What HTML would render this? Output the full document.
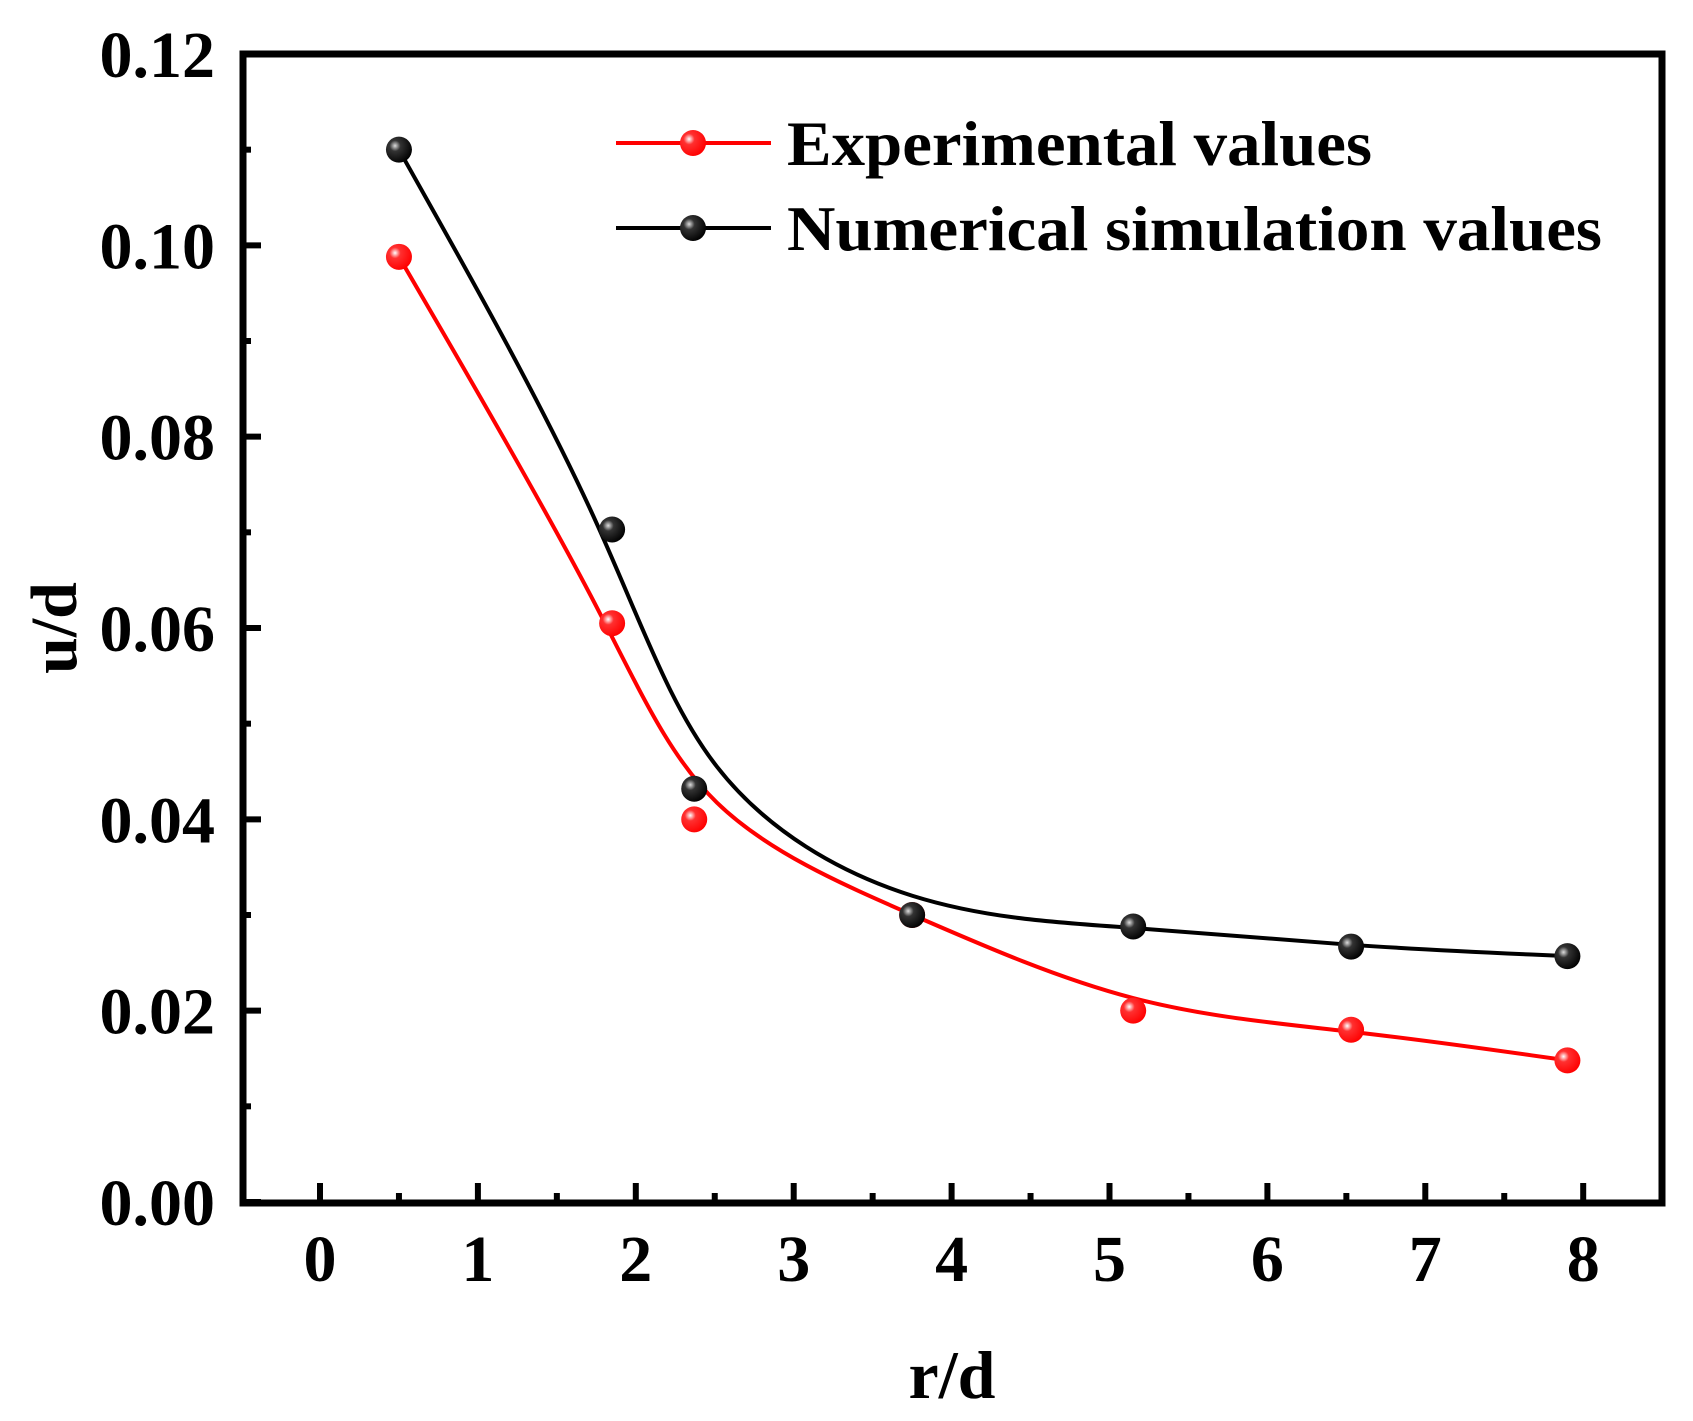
<!DOCTYPE html>
<html><head><meta charset="utf-8"><style>
html,body{margin:0;padding:0;background:#fff;}
svg{display:block;}
text{font-family:"Liberation Serif",serif;font-weight:bold;fill:#000;}
</style></head><body>
<svg id="chart" width="1693" height="1421" viewBox="0 0 1693 1421" xmlns="http://www.w3.org/2000/svg">
<defs>
<radialGradient id="gr" cx="0.35" cy="0.35" r="0.7"><stop offset="0" stop-color="#fff"/><stop offset="0.3" stop-color="#ff3030"/><stop offset="1" stop-color="#f00"/></radialGradient>
<radialGradient id="gk" cx="0.35" cy="0.35" r="0.7"><stop offset="0" stop-color="#ddd"/><stop offset="0.3" stop-color="#333"/><stop offset="1" stop-color="#000"/></radialGradient>
</defs>
<g id="ticks"></g>
<g id="series"></g>
<rect x="243" y="54" width="1419" height="1149" fill="none" stroke="#000" stroke-width="7"/>
<text transform="translate(76,628) rotate(-90)" text-anchor="middle" font-size="66">u/d</text>
<text x="952" y="1398" text-anchor="middle" font-size="68">r/d</text>
<g>
<g>
<line x1="616" y1="143" x2="771" y2="143" stroke="#f00" stroke-width="4"/>
<circle cx="693" cy="143" r="13" fill="url(#gr)"/>
<text x="787" y="165" font-size="64" textLength="585" lengthAdjust="spacingAndGlyphs">Experimental values</text>
</g>
<g>
<line x1="616" y1="228" x2="771" y2="228" stroke="#000" stroke-width="4"/>
<circle cx="693" cy="228" r="13" fill="url(#gk)"/>
<text x="787" y="250" font-size="64" textLength="815" lengthAdjust="spacingAndGlyphs">Numerical simulation values</text>
</g>
</g>
</svg>
<script>
const xValues = [0.5, 1.85, 2.37, 3.75, 5.15, 6.53, 7.9];
const expValues = [0.0988, 0.0605, 0.0400, 0.0300, 0.0200, 0.0180, 0.0148];
const numValues = [0.1100, 0.0703, 0.0432, 0.0300, 0.0288, 0.0267, 0.0257];
const xTicks = [0, 1, 2, 3, 4, 5, 6, 7, 8];
const yTicks = [0, 0.02, 0.04, 0.06, 0.08, 0.10, 0.12];
const yTickLabels = ["0.00", "0.02", "0.04", "0.06", "0.08", "0.10", "0.12"];

const NS = "http://www.w3.org/2000/svg";
function sx(v){ return 320 + v * 157.9; }
function sy(v){ return 1202 - v / 0.12 * 1148; }
function mk(tag, attrs, parent){
  const e = document.createElementNS(NS, tag);
  for (const k in attrs) e.setAttribute(k, attrs[k]);
  parent.appendChild(e);
  return e;
}
const tg = document.getElementById('ticks');
xTicks.forEach((t, i) => {
  const l = mk('line', {x1: sx(t), x2: sx(t), y1: 1203, y2: 1183, stroke: '#000', 'stroke-width': 6}, tg);
  
  
  if (i < xTicks.length - 1) {
    const m = mk('line', {x1: sx(t + 0.5), x2: sx(t + 0.5), y1: 1203, y2: 1193, stroke: '#000', 'stroke-width': 6}, tg);
    
    
  }
  const tx = mk('text', {x: sx(t), y: 1281, 'text-anchor': 'middle', 'font-size': 66}, tg);
  tx.textContent = String(t);
  
  
});
yTicks.forEach((t, i) => {
  const l = mk('line', {x1: 243, x2: 261, y1: sy(t), y2: sy(t), stroke: '#000', 'stroke-width': 6}, tg);
  
  
  if (i < yTicks.length - 1) {
    const m = mk('line', {x1: 243, x2: 251, y1: sy(t + 0.01), y2: sy(t + 0.01), stroke: '#000', 'stroke-width': 6}, tg);
    
    
  }
  const tx = mk('text', {x: 215, y: sy(t) + 23, 'text-anchor': 'end', 'font-size': 66}, tg);
  tx.textContent = yTickLabels[i];
  
  
});
// clamped uniform cubic B-spline using data points as control points
function smoothPath(xs, ys){
  const b = xs.map((x, i) => [sx(x), sy(ys[i])]);
  const p = [b[0], b[0]].concat(b, [b[b.length-1], b[b.length-1]]);
  let d = '';
  for (let i = 0; i + 3 < p.length; i++){
    const B0 = p[i], B1 = p[i+1], B2 = p[i+2], B3 = p[i+3];
    const s = [(B0[0]+4*B1[0]+B2[0])/6, (B0[1]+4*B1[1]+B2[1])/6];
    const c1 = [(2*B1[0]+B2[0])/3, (2*B1[1]+B2[1])/3];
    const c2 = [(B1[0]+2*B2[0])/3, (B1[1]+2*B2[1])/3];
    const e = [(B1[0]+4*B2[0]+B3[0])/6, (B1[1]+4*B2[1]+B3[1])/6];
    if (i === 0) d = 'M' + s[0] + ',' + s[1];
    d += ' C' + c1[0] + ',' + c1[1] + ' ' + c2[0] + ',' + c2[1] + ' ' + e[0] + ',' + e[1];
  }
  return d;
}
const sg = document.getElementById('series');
[[expValues, '#f00', 'url(#gr)', 'experimental'], [numValues, '#000', 'url(#gk)', 'numerical']].forEach(s => {
  const path = mk('path', {d: smoothPath(xValues, s[0]), fill: 'none', stroke: s[1], 'stroke-width': 4}, sg);
  
  
  s[0].forEach((v, i) => {
    const c = mk('circle', {cx: sx(xValues[i]), cy: sy(v), r: 13, fill: s[2]}, sg);
    
    
  });
});
</script>
</body></html>
